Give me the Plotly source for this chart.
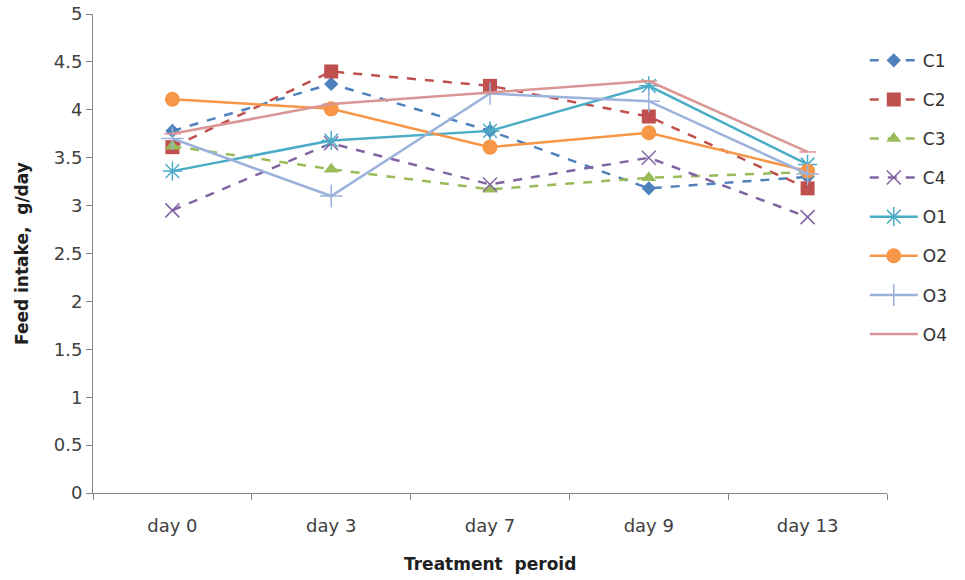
import plotly.graph_objects as go

# Feed intake (g/day) by treatment period for each group
days = ["day 0", "day 3", "day 7", "day 9", "day 13"]

c1 = [3.78, 4.27, 3.78, 3.18, 3.30]
c2 = [3.61, 4.40, 4.25, 3.93, 3.18]
c3 = [3.62, 3.38, 3.17, 3.29, 3.35]
c4 = [2.95, 3.65, 3.22, 3.50, 2.88]
o1 = [3.36, 3.68, 3.78, 4.25, 3.43]
o2 = [4.11, 4.01, 3.61, 3.76, 3.36]
o3 = [3.70, 3.10, 4.17, 4.09, 3.33]
o4 = [3.75, 4.06, 4.18, 4.30, 3.56]

series = [
    ("C1", c1, "#4F81BD", "dash", "diamond", 11),
    ("C2", c2, "#C0504D", "dash", "square", 14),
    ("C3", c3, "#9BBB59", "dash", "triangle-up", 13),
    ("C4", c4, "#8064A2", "dash", "x-thin", 14),
    ("O1", o1, "#4BACC6", "solid", "asterisk", 16),
    ("O2", o2, "#F79646", "solid", "circle", 15),
    ("O3", o3, "#9CB2DC", "solid", "cross-thin", 16),
    ("O4", o4, "#D99694", "solid", "line-ew", 12),
]

fig = go.Figure()
for name, vals, color, dash, symbol, size in series:
    open_sym = symbol in ("x-thin", "asterisk", "cross-thin", "line-ew")
    fig.add_trace(go.Scatter(
        x=days, y=vals, name=name, mode="lines+markers",
        legendgroup=name,
        line=dict(color=color, width=2.5, dash=dash),
        marker=dict(symbol=symbol, size=size, color=color,
                    line=dict(color=color, width=1.5 if open_sym else 0)),
    ))

axis_color = "#868686"
font_family = "DejaVu Sans, sans-serif"
tick_font = dict(family=font_family, size=18, color="#404040")
title_font = dict(family=font_family, size=17, color="#202020")

fig.update_layout(
    width=965, height=580,
    margin=dict(l=93, r=75, t=14, b=87),
    paper_bgcolor="white", plot_bgcolor="white",
    font=tick_font,
    showlegend=True,
    legend=dict(
        x=0.972, y=0.94, xanchor="left", yanchor="top",
        font=dict(family=font_family, size=17, color="#303030"),
        tracegroupgap=14, itemwidth=48, bgcolor="rgba(0,0,0,0)",
        borderwidth=0,
    ),
    xaxis=dict(
        type="category", range=[-0.5, 4.5], automargin=False,
        showgrid=False, showline=True, linecolor=axis_color, linewidth=1,
        ticks="outside", tickson="boundaries", ticklen=6, tickcolor=axis_color,
        tickfont=tick_font, ticklabelstandoff=16,
    ),
    yaxis=dict(
        range=[0, 5], dtick=0.5, automargin=False,
        showgrid=False, showline=True, linecolor=axis_color, linewidth=1,
        ticks="outside", ticklen=6, tickcolor=axis_color, zeroline=False,
        tickfont=tick_font,
    ),
    annotations=[
        dict(text="<b>Treatment  peroid</b>", xref="paper", yref="paper",
             x=0.5, y=-0.148, xanchor="center", yanchor="middle",
             showarrow=False, font=title_font),
        dict(text="<b>Feed intake,  g/day</b>", xref="paper", yref="paper",
             x=-0.09, y=0.5, xanchor="center", yanchor="middle", textangle=-90,
             showarrow=False, font=title_font),
    ],
)

fig.write_html("out.html")
